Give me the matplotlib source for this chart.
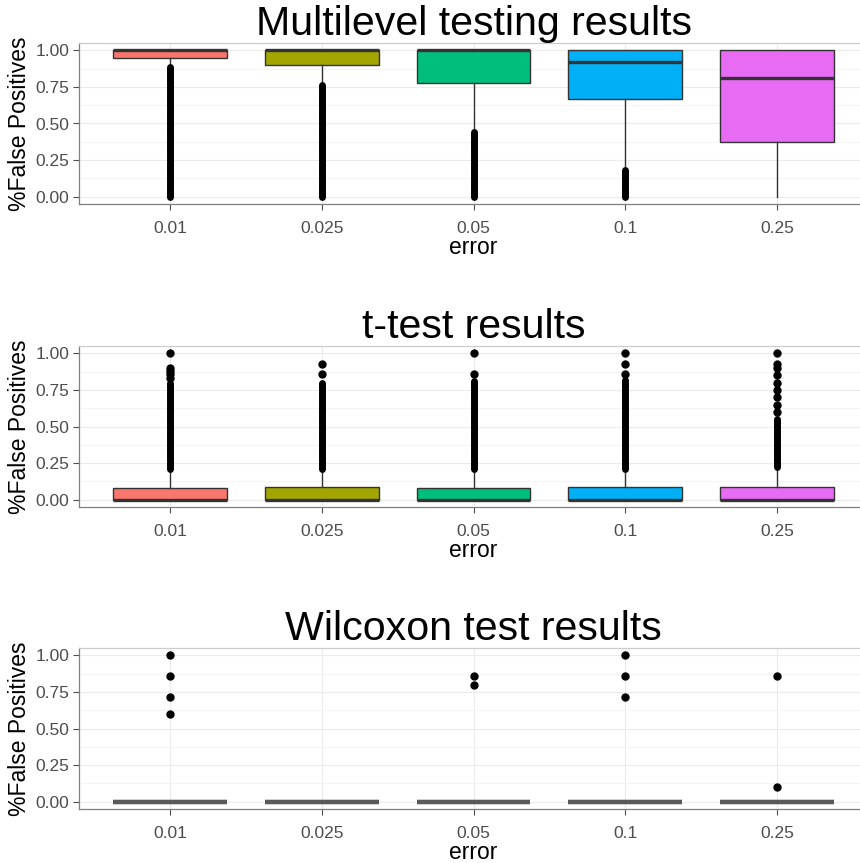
import numpy as np
import matplotlib
matplotlib.use("Agg")
import matplotlib.pyplot as plt

plt.rcParams['font.family'] = ['Liberation Sans', 'DejaVu Sans']

errors = ["0.01", "0.025", "0.05", "0.1", "0.25"]
colors = ["#F8766D", "#A3A500", "#00BF7D", "#00B0F6", "#E76BF3"]

# Multilevel testing: box stats
ml_q1 = [0.95, 0.90, 0.78, 0.67, 0.375]
ml_med = [1.0, 1.0, 1.0, 0.92, 0.81]
ml_q3 = [1.0, 1.0, 1.0, 1.0, 1.0]
ml_whislo = [0.90, 0.77, 0.46, 0.20, 0.0]
ml_whishi = [1.0, 1.0, 1.0, 1.0, 1.0]
ml_out_range = [(0.0, 0.885), (0.0, 0.76), (0.0, 0.44), (0.0, 0.18), None]
ml_out_pts = [[], [], [], [], []]

# t-test
tt_q1 = [0.0, 0.0, 0.0, 0.0, 0.0]
tt_med = [0.0, 0.0, 0.0, 0.0, 0.0]
tt_q3 = [0.08, 0.09, 0.08, 0.09, 0.09]
tt_whislo = [0.0, 0.0, 0.0, 0.0, 0.0]
tt_whishi = [0.20, 0.20, 0.20, 0.20, 0.21]
tt_out_range = [(0.21, 0.80), (0.21, 0.80), (0.21, 0.81), (0.21, 0.82), (0.22, 0.55)]
tt_out_pts = [[0.83, 0.86, 0.88, 0.90, 1.0],
              [0.86, 0.93],
              [0.86, 1.0],
              [0.86, 0.93, 1.0],
              [0.6, 0.65, 0.7, 0.75, 0.8, 0.85, 0.9, 0.93, 1.0]]

# Wilcoxon
wx_q1 = [0.0] * 5
wx_med = [0.0] * 5
wx_q3 = [0.0] * 5
wx_whislo = [0.0] * 5
wx_whishi = [0.0] * 5
wx_out_range = [None] * 5
wx_out_pts = [[1.0, 0.857, 0.714, 0.6], [], [0.857, 0.8], [1.0, 0.857, 0.714], [0.857, 0.1]]

panels = [
    ("Multilevel testing results", ml_q1, ml_med, ml_q3, ml_whislo, ml_whishi, ml_out_range, ml_out_pts),
    ("t-test results", tt_q1, tt_med, tt_q3, tt_whislo, tt_whishi, tt_out_range, tt_out_pts),
    ("Wilcoxon test results", wx_q1, wx_med, wx_q3, wx_whislo, wx_whishi, wx_out_range, wx_out_pts),
]

W, H = 860, 863
fig = plt.figure(figsize=(W / 100, H / 100), dpi=100)
tops = [43, 346, 648]
ph = 161
left, right = 79, 868

pos = np.arange(1, 6)
for (title, q1, med, q3, wlo, whi, orng, opts), top in zip(panels, tops):
    ax = fig.add_axes([left / W, 1 - (top + ph) / H, (right - left) / W, ph / H])
    stats = []
    for i in range(5):
        stats.append(dict(med=med[i], q1=q1[i], q3=q3[i], whislo=wlo[i], whishi=whi[i],
                          fliers=np.array(opts[i])))
    b = ax.bxp(stats, positions=pos, widths=0.75, patch_artist=True, showcaps=False,
               boxprops=dict(edgecolor="#333333", linewidth=1.0),
               whiskerprops=dict(color="#333333", linewidth=1.0),
               medianprops=dict(color="#333333", linewidth=2.4),
               flierprops=dict(marker="o", markerfacecolor="black", markeredgecolor="black",
                               markersize=5, linestyle="none"), zorder=3)
    gray_box = title.startswith("Wilcoxon")
    for patch, c in zip(b["boxes"], colors):
        patch.set_facecolor(c)
        if gray_box:
            patch.set_edgecolor("#595959")
            patch.set_linewidth(3)
    if gray_box:
        for m in b["medians"]:
            m.set_color("#595959")
            m.set_linewidth(3.2)
    # dense runs of outliers drawn as one thick rounded stroke
    for i, r in enumerate(orng):
        if r is not None:
            ax.vlines(pos[i], r[0], r[1], color="black", linewidth=5, capstyle="round", zorder=4)

    ax.set_xlim(0.4, 5.6)
    ax.set_ylim(-0.05, 1.05)
    ax.set_yticks([0, 0.25, 0.5, 0.75, 1.0])
    ax.set_yticklabels(["0.00", "0.25", "0.50", "0.75", "1.00"])
    ax.set_yticks([0.125, 0.375, 0.625, 0.875], minor=True)
    ax.set_xticks(pos)
    ax.set_xticklabels(errors)
    ax.grid(True, which="major", color="#EBEBEB", linewidth=0.8, zorder=0)
    ax.grid(True, which="minor", axis="y", color="#F5F5F5", linewidth=0.8, zorder=0)
    ax.set_axisbelow(True)
    ax.tick_params(axis="both", which="major", direction="out", length=4, width=0.8,
                   color="#4D4D4D", labelcolor="#4D4D4D", labelsize=12.5)
    ax.tick_params(axis="x", which="major", pad=8)
    ax.tick_params(axis="y", which="major", pad=3)
    ax.tick_params(axis="y", which="minor", length=0)
    for s in ["left", "bottom"]:
        ax.spines[s].set_color("#7F7F7F")
        ax.spines[s].set_linewidth(0.9)
    for s in ["top", "right"]:
        ax.spines[s].set_color("#CCCCCC")
        ax.spines[s].set_linewidth(0.9)
    ax.set_xlabel("error", fontsize=16.5, labelpad=0)
    ax.set_ylabel("%False Positives", fontsize=16.5, labelpad=3)
    ax.set_title(title, fontsize=29.6, pad=1)

fig.savefig("out.png", dpi=100)
